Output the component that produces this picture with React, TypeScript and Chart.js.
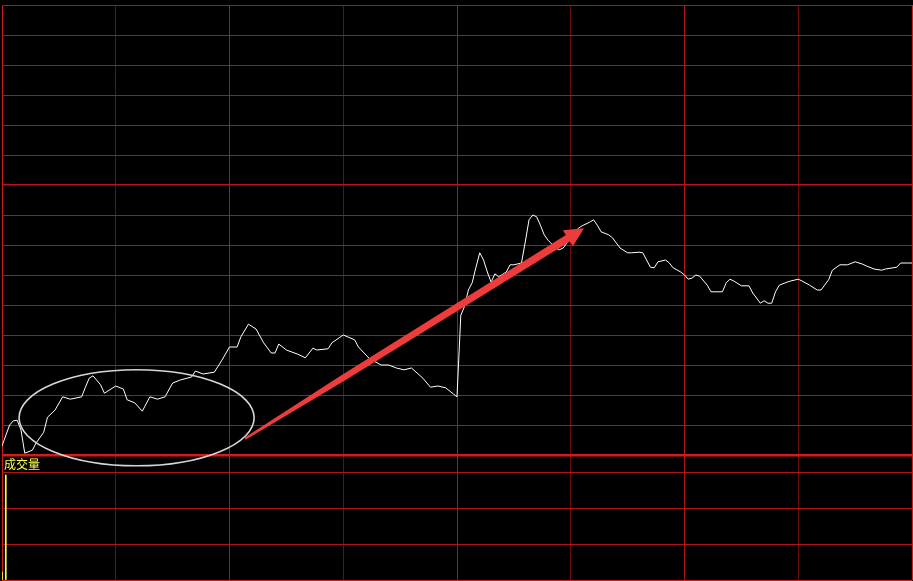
import React, { useEffect, useRef } from "react";
import { Chart, registerables } from "chart.js";

Chart.register(...registerables);

// ---- data (minute index of the trading day, price) ----
const minutes = [
  0, 2, 3, 4, 5, 6, 8, 9, 11, 12, 14, 16, 18, 21, 22, 23, 24, 26, 27, 30,
  32, 33, 35, 37, 39, 41, 43, 45, 47, 50, 51, 53, 56, 58, 60, 62, 63, 65, 67, 69,
  71, 72, 73, 75, 78, 80, 82, 83, 86, 87, 90, 93, 94, 97, 100, 102, 104, 106, 108, 111,
  113, 115, 117, 119, 120, 121, 122, 123, 124, 125, 126, 127, 128, 129, 130, 131, 133, 134, 135, 137,
  138, 139, 140, 141, 142, 143, 144, 146, 147, 148, 150, 152, 153, 155, 156, 157, 158, 160, 161, 163,
  165, 166, 168, 169, 171, 172, 173, 175, 176, 177, 179, 180, 181, 182, 183, 184, 186, 187, 188, 190,
  191, 192, 193, 195, 197, 198, 200, 201, 202, 203, 204, 205, 207, 208, 210, 211, 213, 215, 216, 218,
  219, 221, 223, 225, 227, 228, 230, 232, 233, 235, 236, 237, 239, 240,
];
const prices = [
  9.565, 9.6, 9.607, 9.608, 9.592, 9.553, 9.558, 9.57, 9.588, 9.613, 9.625, 9.647, 9.643, 9.647, 9.663, 9.678, 9.682, 9.667, 9.653, 9.665,
  9.66, 9.642, 9.637, 9.623, 9.647, 9.643, 9.647, 9.67, 9.675, 9.68, 9.69, 9.685, 9.688, 9.708, 9.73, 9.73, 9.747, 9.768, 9.76, 9.737,
  9.72, 9.72, 9.735, 9.725, 9.718, 9.712, 9.728, 9.725, 9.727, 9.737, 9.75, 9.742, 9.73, 9.71, 9.7, 9.7, 9.695, 9.692, 9.695, 9.678,
  9.663, 9.665, 9.662, 9.652, 9.647, 9.783, 9.798, 9.825, 9.837, 9.863, 9.887, 9.875, 9.855, 9.838, 9.852, 9.847, 9.855, 9.867, 9.867, 9.87,
  9.905, 9.942, 9.95, 9.947, 9.933, 9.917, 9.908, 9.895, 9.892, 9.895, 9.912, 9.928, 9.932, 9.938, 9.942, 9.933, 9.922, 9.917, 9.912, 9.895,
  9.887, 9.887, 9.888, 9.887, 9.863, 9.862, 9.872, 9.875, 9.87, 9.862, 9.855, 9.85, 9.843, 9.845, 9.85, 9.848, 9.833, 9.822, 9.822, 9.822,
  9.837, 9.843, 9.84, 9.832, 9.832, 9.82, 9.803, 9.807, 9.803, 9.803, 9.822, 9.833, 9.838, 9.84, 9.843, 9.84, 9.833, 9.825, 9.825, 9.842,
  9.858, 9.867, 9.867, 9.872, 9.868, 9.865, 9.86, 9.858, 9.86, 9.862, 9.863, 9.87, 9.87, 9.87,
];
const volumeMinutes = [0, 1];
const volumes = [45, 588];

const minuteTicks = [0, 30, 60, 90, 120, 150, 180, 210, 240];
const priceTicks = [9.55, 9.6, 9.65, 9.7, 9.75, 9.8, 9.85, 9.9, 9.95, 10.0, 10.05, 10.1, 10.15, 10.2, 10.25, 10.3];
const volumeTicks = [0, 200, 400, 600];
const prevClose = 10.0;
const volumeLabel = "成交量";

// annotation in data units: ellipse [minute, price], half-spans; arrow from -> to
const ellipseCenter = [35.5, 9.612];
const ellipseHalf = [31, 0.08];
const arrowFrom = [64.1, 9.577];
const arrowTo = [153.5, 9.928];

const GRID = "#b31414";
const GRID_DIM = "#6a0c0c";
const BORDER = "#cc1c1c";

const xGridColor = (ctx: any) => {
  const v = ctx.tick ? ctx.tick.value : 0;
  if (v === 0 || v === 240) return BORDER;
  if (v % 60 === 0) return GRID;
  return GRID_DIM;
};

const xScale = () => ({
  type: "linear" as const,
  min: 0,
  max: 240,
  offset: false,
  afterBuildTicks: (s: any) => {
    s.ticks = minuteTicks.map((v) => ({ value: v }));
  },
  afterFit: (s: any) => {
    s.height = 0;
  },
  ticks: { display: false },
  border: { display: false },
  grid: { drawTicks: false, offset: false, color: xGridColor, lineWidth: 1 },
});

const overlayPlugin = {
  id: "overlay",
  afterDatasetsDraw(chart: any) {
    const { ctx } = chart;
    const x = chart.scales.x;
    const y = chart.scales.y;
    ctx.save();
    // ellipse
    const cx = x.getPixelForValue(ellipseCenter[0]);
    const cy = y.getPixelForValue(ellipseCenter[1]);
    const rx = x.getPixelForValue(ellipseCenter[0] + ellipseHalf[0]) - cx;
    const ry = cy - y.getPixelForValue(ellipseCenter[1] + ellipseHalf[1]);
    ctx.beginPath();
    ctx.ellipse(cx, cy, rx, ry, 0, 0, Math.PI * 2);
    ctx.strokeStyle = "#d6d6d6";
    ctx.lineWidth = 1.6;
    ctx.stroke();
    // arrow
    const sx = x.getPixelForValue(arrowFrom[0]);
    const sy = y.getPixelForValue(arrowFrom[1]);
    const tx = x.getPixelForValue(arrowTo[0]);
    const ty = y.getPixelForValue(arrowTo[1]);
    const dx = tx - sx;
    const dy = ty - sy;
    const len = Math.hypot(dx, dy);
    const ux = dx / len;
    const uy = dy / len;
    const nx = -uy;
    const ny = ux;
    const headLen = 19;
    const headHalf = 9.5;
    const w0 = 1.2;
    const wm = 3.2;
    const w1 = 3.8;
    const bx = tx - ux * headLen;
    const by = ty - uy * headLen;
    const mx = sx + (bx - sx) * 0.3;
    const my = sy + (by - sy) * 0.3;
    ctx.beginPath();
    ctx.moveTo(sx + nx * w0, sy + ny * w0);
    ctx.lineTo(mx + nx * wm, my + ny * wm);
    ctx.lineTo(bx + nx * w1, by + ny * w1);
    ctx.lineTo(bx + nx * headHalf, by + ny * headHalf);
    ctx.lineTo(tx, ty);
    ctx.lineTo(bx - nx * headHalf, by - ny * headHalf);
    ctx.lineTo(bx - nx * w1, by - ny * w1);
    ctx.lineTo(mx - nx * wm, my - ny * wm);
    ctx.lineTo(sx - nx * w0, sy - ny * w0);
    ctx.closePath();
    ctx.fillStyle = "#ee3b3b";
    ctx.fill();
    ctx.restore();
  },
};

const labelPlugin = {
  id: "volLabel",
  afterDraw(chart: any) {
    const { ctx, chartArea } = chart;
    ctx.save();
    ctx.font = '12px "Noto Sans CJK SC", "Noto Sans", sans-serif';
    ctx.fillStyle = "#ffff48";
    ctx.textBaseline = "middle";
    ctx.textAlign = "left";
    ctx.fillText(volumeLabel, chartArea.left + 2, chartArea.top + 9.5);
    ctx.restore();
  },
};

export default function App() {
  const mainRef = useRef<HTMLCanvasElement>(null);
  const volRef = useRef<HTMLCanvasElement>(null);

  useEffect(() => {
    const volChart = new Chart(volRef.current as HTMLCanvasElement, {
      type: "bar",
      data: {
        datasets: [
          {
            data: volumeMinutes.map((m, i) => ({ x: m, y: volumes[i] })),
            backgroundColor: "#ffff30",
            barThickness: 1,
            borderWidth: 0,
          },
        ],
      },
      options: {
        responsive: false,
        animation: false,
        events: [],
        layout: { padding: { left: 2, right: 1, top: 455, bottom: 1 }, autoPadding: false },
        plugins: { legend: { display: false }, tooltip: { enabled: false } },
        scales: {
          x: xScale(),
          y: {
            type: "linear",
            min: 0,
            max: 700,
            afterBuildTicks: (s: any) => {
              s.ticks = volumeTicks.map((v) => ({ value: v }));
            },
            afterFit: (s: any) => {
              s.width = 0;
            },
            ticks: { display: false },
            border: { display: false },
            grid: {
              drawTicks: false,
              color: (c: any) => (c.tick && c.tick.value === 0 ? BORDER : GRID),
              lineWidth: 1,
            },
          },
        },
      } as any,
      plugins: [labelPlugin],
    });

    const mainChart = new Chart(mainRef.current as HTMLCanvasElement, {
      type: "line",
      data: {
        datasets: [
          {
            data: minutes.map((m, i) => ({ x: m, y: prices[i] })),
            borderColor: "#ffffff",
            borderWidth: 1,
            pointRadius: 0,
            tension: 0,
            fill: false,
          },
        ],
      },
      options: {
        responsive: false,
        animation: false,
        events: [],
        layout: { padding: { left: 2, right: 1, top: 5, bottom: 126 }, autoPadding: false },
        plugins: { legend: { display: false }, tooltip: { enabled: false } },
        scales: {
          x: xScale(),
          y: {
            type: "linear",
            min: priceTicks[0],
            max: priceTicks[priceTicks.length - 1],
            afterBuildTicks: (s: any) => {
              s.ticks = priceTicks.map((v) => ({ value: v }));
            },
            afterFit: (s: any) => {
              s.width = 0;
            },
            ticks: { display: false },
            border: { display: false },
            grid: {
              drawTicks: false,
              color: (c: any) => {
                const v = c.tick ? c.tick.value : 0;
                if (Math.abs(v - priceTicks[0]) < 1e-6) return "#d21c1c";
                if (Math.abs(v - prevClose) < 1e-6) return "#b8141e";
                return GRID;
              },
              lineWidth: (c: any) => {
                const v = c.tick ? c.tick.value : 0;
                if (Math.abs(v - priceTicks[0]) < 1e-6) return 2.5;
                if (Math.abs(v - prevClose) < 1e-6) return 1.6;
                return 1;
              },
            },
          },
        },
      } as any,
      plugins: [overlayPlugin],
    });

    return () => {
      mainChart.destroy();
      volChart.destroy();
    };
  }, []);

  return (
    <div
      style={{
        position: "fixed",
        left: 0,
        top: 0,
        width: 913,
        height: 581,
        background: "#000000",
        overflow: "hidden",
      }}
    >
      <canvas
        ref={volRef}
        width={913}
        height={581}
        style={{ position: "absolute", left: 0, top: 0, width: 913, height: 581 }}
      />
      <canvas
        ref={mainRef}
        width={913}
        height={581}
        style={{ position: "absolute", left: 0, top: 0, width: 913, height: 581 }}
      />
    </div>
  );
}
